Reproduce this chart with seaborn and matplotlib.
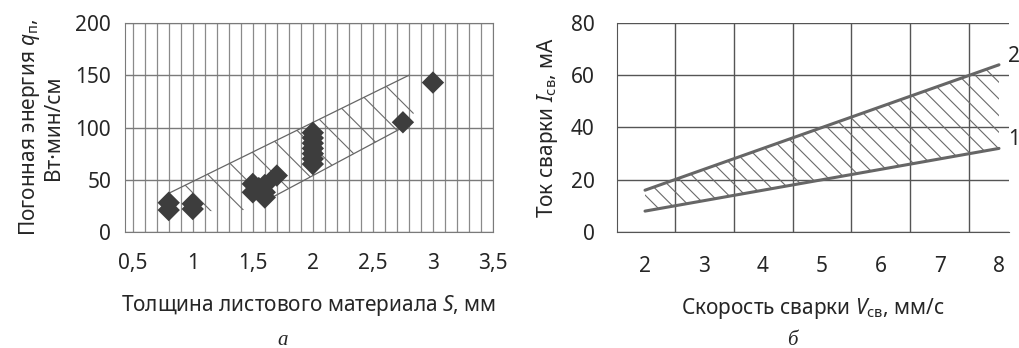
import numpy as np
import pandas as pd
import matplotlib
matplotlib.use('Agg')
import matplotlib.pyplot as plt
import seaborn as sns

# --- data ---
# panel a: welding energy vs sheet thickness
thickness = [0.8, 0.8, 1.0, 1.0, 1.5, 1.5, 1.55, 1.6, 1.6, 1.6, 1.7,
             2.0, 2.0, 2.0, 2.0, 2.0, 2.0, 2.0, 2.75, 3.0]
energy = [21, 28, 22, 27, 38, 46, 42, 45, 38, 33, 54,
          65, 70, 75, 80, 85, 90, 95, 105, 143]
band_x = [0.88, 2.8, 2.9, 2.74, 1.62, 1.4, 1.1]
band_y = [42, 150, 122, 99.5, 30.6, 20, 20]
top_x, top_y = [0.8, 2.8], [37, 150]
bot_x, bot_y = [1.62, 2.74], [30.6, 99.5]

# panel b: welding current vs speed
speed = [2, 3, 4, 5, 6, 7, 8]
current_1 = [8, 12, 16, 20, 24, 28, 32]
current_2 = [16, 24, 32, 40, 48, 56, 64]

sns.set_style('white')
plt.rcParams['font.family'] = ['Noto Sans', 'DejaVu Sans']
plt.rcParams['mathtext.fontset'] = 'custom'
plt.rcParams['mathtext.rm'] = 'Noto Sans'
plt.rcParams['mathtext.it'] = 'Noto Sans:italic'
plt.rcParams['hatch.linewidth'] = 0.8

fs = 15
fig = plt.figure(figsize=(10.19, 3.48), dpi=100)
ax1 = fig.add_axes([125/1019, 1-232/348, 368/1019, 209/348])
ax2 = fig.add_axes([617/1019, 1-232/348, 392/1019, 209/348])

# ---- panel a ----
ax1.set_xlim(0.436, 3.5)
ax1.set_ylim(0, 200)
ax1.set_xticks(np.arange(0.5, 3.51, 0.5))
ax1.set_xticks(np.arange(0.5, 3.51, 0.1), minor=True)
ax1.set_xticklabels(['0,5', '1', '1,5', '2', '2,5', '3', '3,5'])
ax1.set_yticks([0, 50, 100, 150, 200])
ax1.grid(True, which='both', axis='x', color='#8a8a8a', lw=0.9)
ax1.grid(True, which='major', axis='y', color='#7a7a7a', lw=1.0)
ax1.set_axisbelow(True)
ax1.fill(band_x, band_y, facecolor='none', edgecolor='#6a6a6a', lw=0,
         hatch='\\', zorder=2)
ax1.plot(top_x, top_y, color='#666666', lw=0.9, zorder=2)
ax1.plot(bot_x, bot_y, color='#666666', lw=0.9, zorder=2)
sns.scatterplot(x=thickness, y=energy, ax=ax1, marker='D', s=130,
                color='#3d3d3d', edgecolor='none', zorder=3)
ax1.tick_params(axis='x', which='major', length=5, width=1, color='#7a7a7a',
                direction='out', pad=10, labelsize=fs)
ax1.tick_params(axis='x', which='minor', length=0)
ax1.tick_params(axis='y', length=0, pad=10, labelsize=fs)
for s in ax1.spines.values():
    s.set_color('#7a7a7a')
ax1.set_xlabel('Толщина листового материала $S$, мм', fontsize=fs, labelpad=14)
ax1.set_ylabel('Погонная энергия $q_{\\mathrm{п}}$,\nВт·мин/см', fontsize=fs,
               labelpad=8, linespacing=1.05)

# ---- panel b ----
ax2.set_xlim(1.525, 8.17)
ax2.set_ylim(0, 80)
ax2.set_xticks(speed)
ax2.set_xticks(np.arange(2.5, 8, 1.0), minor=True)
ax2.set_yticks([0, 20, 40, 60, 80])
ax2.grid(True, which='minor', axis='x', color='#555555', lw=1.0)
ax2.grid(True, which='major', axis='y', color='#555555', lw=1.0)
ax2.grid(False, which='major', axis='x')
ax2.set_axisbelow(True)
ax2.fill_between(speed, current_1, current_2, facecolor='none',
                 edgecolor='#6a6a6a', lw=0, hatch='\\\\', zorder=2)
sns.lineplot(x=speed, y=current_2, ax=ax2, color='#666666', lw=2.2, zorder=3)
sns.lineplot(x=speed, y=current_1, ax=ax2, color='#666666', lw=2.2, zorder=3)
ax2.text(8.15, current_2[-1] + 3, '2', fontsize=fs, va='center', ha='left',
         clip_on=False)
ax2.text(8.15, current_1[-1] + 3.5, '1', fontsize=fs, va='center', ha='left',
         clip_on=False)
ax2.tick_params(axis='both', which='both', length=0, labelsize=fs)
ax2.tick_params(axis='x', pad=17)
ax2.tick_params(axis='y', pad=16)
for name, s in ax2.spines.items():
    s.set_color('#555555')
    if name in ('top', 'right'):
        s.set_visible(False)
ax2.set_xlabel('Скорость сварки $V_{\\mathrm{св}}$, мм/с', fontsize=fs, labelpad=14)
ax2.set_ylabel('Ток сварки $I_{\\mathrm{св}}$, мА', fontsize=fs, labelpad=8)

# captions
fig.text(283/1019, 1-345/348, 'а', fontsize=15, family='Liberation Serif',
         style='italic', ha='center', va='baseline')
fig.text(792/1019, 1-345/348, 'б', fontsize=15, family='Liberation Serif',
         style='italic', ha='center', va='baseline')

fig.savefig('out.png', dpi=100)
